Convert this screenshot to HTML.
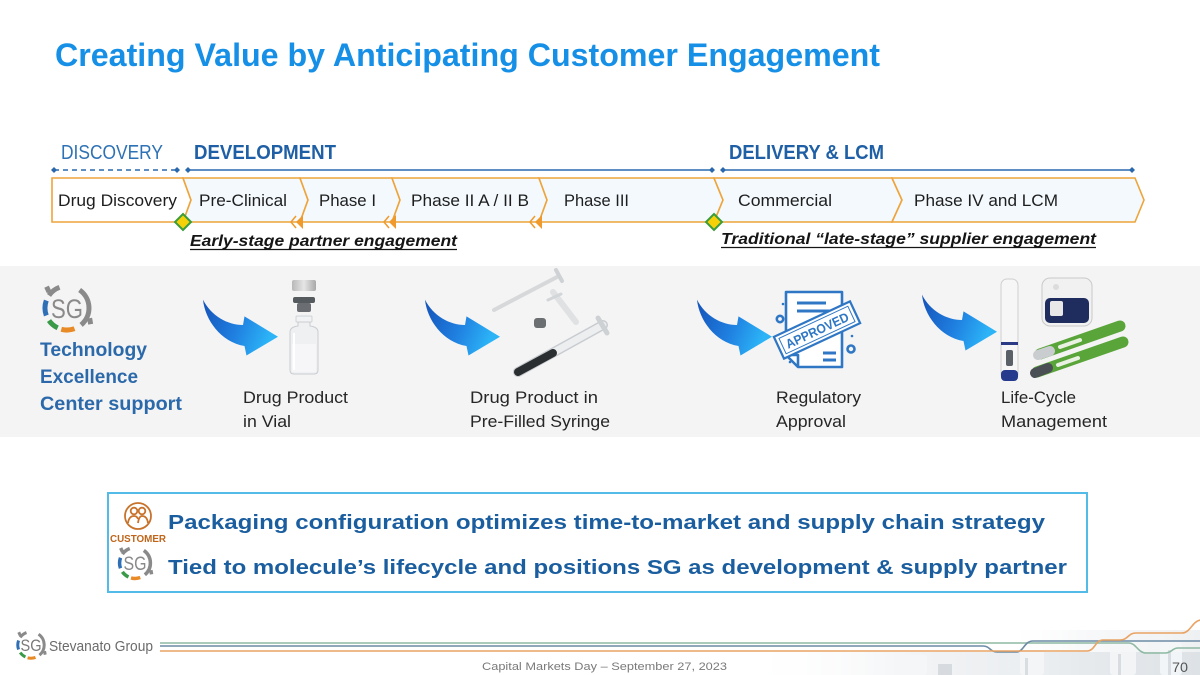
<!DOCTYPE html>
<html>
<head>
<meta charset="utf-8">
<style>
  html,body{margin:0;padding:0;background:#fff;}
  svg{display:block;}
  text{font-family:"Liberation Sans", Arial, sans-serif;}
</style>
</head>
<body>
<svg width="1200" height="675" viewBox="0 0 1200 675" xmlns="http://www.w3.org/2000/svg">
  <defs>
    <linearGradient id="arr" x1="0" y1="0" x2="1" y2="0.3">
      <stop offset="0" stop-color="#1552b8"/>
      <stop offset="0.55" stop-color="#1f7fe0"/>
      <stop offset="1" stop-color="#2cb4f7"/>
    </linearGradient>
    <linearGradient id="foot" x1="0" y1="0" x2="1" y2="0">
      <stop offset="0" stop-color="#ffffff" stop-opacity="0"/>
      <stop offset="0.4" stop-color="#e8ebee" stop-opacity="0.6"/>
      <stop offset="1" stop-color="#dde2e6" stop-opacity="1"/>
    </linearGradient>
    <linearGradient id="cap" x1="0" y1="0" x2="1" y2="0">
      <stop offset="0" stop-color="#b8b8b8"/>
      <stop offset="0.5" stop-color="#e6e6e6"/>
      <stop offset="1" stop-color="#a8a8a8"/>
    </linearGradient>
    <g id="ring">
      <path d="M-20.7,7.5 A22,22 0 0 1 -20.7,-7.5" stroke="#2f6fb5" stroke-width="5" fill="none"/>
      <path d="M-9.3,19.9 A22,22 0 0 1 -18,12.6" stroke="#3a9a48" stroke-width="5" fill="none"/>
      <path d="M7.5,20.7 A22,22 0 0 1 -5.7,21.3" stroke="#e88a25" stroke-width="5" fill="none"/>
      <path d="M12.6,-18 A22,22 0 0 1 14.1,16.9" stroke="#8a8a8a" stroke-width="5" fill="none"/>
      <path d="M-18,-12.6 A22,22 0 0 1 -7.5,-20.7" stroke="#8a8a8a" stroke-width="5" fill="none"/>
      <rect x="-12" y="-28" width="5" height="6" fill="#8a8a8a" transform="rotate(-25)"/>
      <rect x="18" y="14" width="5" height="6" fill="#8a8a8a" transform="rotate(-10)"/>
    </g>
    <path id="swoosh" d="M0,1.6 C2,22 18,44 41.5,48 L43.5,57.5 L75,38.7 L41.5,18.4 L40,27 C25,27 8,18 0,1.6 Z"/>
  </defs>

  <!-- Title -->
  <text x="55" y="66" font-size="32" font-weight="bold" fill="#168fe6" textLength="825" lengthAdjust="spacingAndGlyphs">Creating Value by Anticipating Customer Engagement</text>

  <!-- Stage headers -->
  <text x="61" y="159" font-size="20" fill="#2e72b5" textLength="102" lengthAdjust="spacingAndGlyphs">DISCOVERY</text>
  <text x="194" y="159" font-size="20" font-weight="bold" fill="#1f5fa5" textLength="142" lengthAdjust="spacingAndGlyphs">DEVELOPMENT</text>
  <text x="729" y="159" font-size="20" font-weight="bold" fill="#1f5fa5" textLength="155" lengthAdjust="spacingAndGlyphs">DELIVERY &amp; LCM</text>

  <!-- Timeline lines -->
  <g stroke="#2a68ae" stroke-width="1.5" fill="#2a68ae">
    <line x1="54" y1="170" x2="177" y2="170" stroke-dasharray="5,4"/>
    <line x1="188" y1="170" x2="712" y2="170"/>
    <line x1="723" y1="170" x2="1132" y2="170"/>
    <polygon points="54,167 57,170 54,173 51,170" stroke="none"/>
    <polygon points="177,167 180,170 177,173 174,170" stroke="none"/>
    <polygon points="188,167 191,170 188,173 185,170" stroke="none"/>
    <polygon points="712,167 715,170 712,173 709,170" stroke="none"/>
    <polygon points="723,167 726,170 723,173 720,170" stroke="none"/>
    <polygon points="1132,167 1135,170 1132,173 1129,170" stroke="none"/>
  </g>

  <!-- Phase chevrons -->
  <g stroke="#eea43a" stroke-width="1.6" stroke-linejoin="miter">
    <polygon points="52,178 183,178 191,200 183,222 52,222" fill="#ffffff"/>
    <polygon points="183,178 300,178 308,200 300,222 183,222 191,200" fill="#f3f9fd"/>
    <polygon points="300,178 392,178 400,200 392,222 300,222 308,200" fill="#f3f9fd"/>
    <polygon points="392,178 539,178 547,200 539,222 392,222 400,200" fill="#f3f9fd"/>
    <polygon points="539,178 714,178 723,200 714,222 539,222 547,200" fill="#f3f9fd"/>
    <polygon points="714,178 892,178 902,200 892,222 714,222 723,200" fill="#f3f9fd"/>
    <polygon points="892,178 1135,178 1144,200 1135,222 892,222 902,200" fill="#f3f9fd"/>
  </g>
  <g font-size="17" fill="#1e1e1e">
    <text x="58" y="206" textLength="119" lengthAdjust="spacingAndGlyphs">Drug Discovery</text>
    <text x="199" y="206" textLength="88" lengthAdjust="spacingAndGlyphs">Pre-Clinical</text>
    <text x="319" y="206" textLength="57" lengthAdjust="spacingAndGlyphs">Phase I</text>
    <text x="411" y="206" textLength="118" lengthAdjust="spacingAndGlyphs">Phase II A / II B</text>
    <text x="564" y="206" textLength="65" lengthAdjust="spacingAndGlyphs">Phase III</text>
    <text x="738" y="206" textLength="94" lengthAdjust="spacingAndGlyphs">Commercial</text>
    <text x="914" y="206" textLength="144" lengthAdjust="spacingAndGlyphs">Phase IV and LCM</text>
  </g>

  <!-- small orange double arrowheads -->
  <g fill="#ef9a2a" stroke="#ef9a2a" stroke-width="1.5">
    <polyline points="296,216 291,222 296,228" fill="none"/>
    <polygon points="303,215 296,222 303,229" stroke="none"/>
    <polyline points="389,216 384,222 389,228" fill="none"/>
    <polygon points="396,215 389,222 396,229" stroke="none"/>
    <polyline points="535,216 530,222 535,228" fill="none"/>
    <polygon points="542,215 535,222 542,229" stroke="none"/>
  </g>

  <!-- diamonds -->
  <polygon points="183,214 191,222 183,230 175,222" fill="#f6d10a" stroke="#3a9c3a" stroke-width="2"/>
  <polygon points="714,214 722,222 714,230 706,222" fill="#f6d10a" stroke="#3a9c3a" stroke-width="2"/>

  <!-- engagement labels -->
  <text x="190" y="246" font-size="16" font-weight="bold" font-style="italic" fill="#151515" textLength="267" lengthAdjust="spacingAndGlyphs">Early-stage  partner  engagement</text>
  <line x1="190" y1="249.5" x2="457" y2="249.5" stroke="#151515" stroke-width="1.2"/>
  <text x="721" y="244" font-size="16" font-weight="bold" font-style="italic" fill="#151515" textLength="375" lengthAdjust="spacingAndGlyphs">Traditional  “late-stage”  supplier  engagement</text>
  <line x1="721" y1="247.5" x2="1096" y2="247.5" stroke="#151515" stroke-width="1.2"/>

  <!-- gray band -->
  <rect x="0" y="266" width="1200" height="171" fill="#f4f4f4"/>

  <!-- SG logo main -->
  <g transform="translate(67,308)"><use href="#ring"/></g>
  <text x="67" y="318" font-size="27" fill="#8a8a8a" text-anchor="middle" textLength="32" lengthAdjust="spacingAndGlyphs">SG</text>

  <g font-size="19" font-weight="bold" fill="#2b69aa">
    <text x="40" y="356" textLength="107" lengthAdjust="spacingAndGlyphs">Technology</text>
    <text x="40" y="383" textLength="98" lengthAdjust="spacingAndGlyphs">Excellence</text>
    <text x="40" y="410" textLength="142" lengthAdjust="spacingAndGlyphs">Center support</text>
  </g>

  <!-- blue swoosh arrows -->
  <use href="#swoosh" fill="url(#arr)" transform="translate(203,298)"/>
  <use href="#swoosh" fill="url(#arr)" transform="translate(425,298)"/>
  <use href="#swoosh" fill="url(#arr)" transform="translate(697,298)"/>
  <use href="#swoosh" fill="url(#arr)" transform="translate(922,293)"/>

  <!-- vial -->
  <g>
    <rect x="292" y="280" width="24" height="11" rx="2" fill="url(#cap)"/>
    <rect x="293" y="297" width="22" height="6" rx="2" fill="#555a5e"/>
    <rect x="297" y="303" width="14" height="9" rx="2" fill="#6a6e72"/>
    <rect x="296" y="316" width="16" height="6" rx="1" fill="#f2f3f4" stroke="#cfd3d6" stroke-width="1"/>
    <path d="M298,322 L298,326 Q290,327 290,332 L290,370 Q290,374 294,374 L314,374 Q318,374 318,370 L318,332 Q318,327 310,326 L310,322 Z" fill="#eef0f2" stroke="#c9cdd1" stroke-width="1"/>
    <rect x="292" y="344" width="24" height="28" fill="#f7f8f9" opacity="0.8"/>
    <line x1="294" y1="333" x2="294" y2="370" stroke="#ffffff" stroke-width="2"/>
  </g>

  <!-- syringe parts -->
  <g stroke-linecap="round">
    <line x1="494" y1="310" x2="559" y2="276" stroke="#d6d8da" stroke-width="4"/>
    <line x1="556" y1="270" x2="562" y2="281" stroke="#cfd2d4" stroke-width="4"/>
    <line x1="553" y1="292" x2="576" y2="322" stroke="#dfe1e3" stroke-width="6"/>
    <line x1="548" y1="300" x2="561" y2="294" stroke="#d3d6d8" stroke-width="3"/>
    <rect x="534" y="318" width="12" height="10" rx="3" fill="#6c6f72"/>
    <line x1="518" y1="372" x2="603" y2="325" stroke="#c8ccd0" stroke-width="10"/>
    <line x1="518" y1="372" x2="603" y2="325" stroke="#eceef0" stroke-width="7"/>
    <line x1="518" y1="372" x2="553" y2="353" stroke="#2b2e30" stroke-width="8"/>
    <line x1="598" y1="318" x2="607" y2="333" stroke="#cdd1d4" stroke-width="5"/>
  </g>

  <!-- approved doc -->
  <g stroke="#2f77c4" stroke-width="2.6" fill="none" stroke-linejoin="round">
    <path d="M786,292 L842,292 L842,367 L798,367 L786,355 Z" fill="#ffffff"/>
    <path d="M786,355 L798,355 L798,367"/>
    <line x1="797" y1="303" x2="826" y2="303" stroke-width="3"/>
    <line x1="797" y1="311" x2="832" y2="311" stroke-width="3"/>
    <line x1="823" y1="353" x2="836" y2="353" stroke-width="3"/>
    <line x1="823" y1="360" x2="836" y2="360" stroke-width="3"/>
    <circle cx="780" cy="319" r="3.2"/>
    <circle cx="851" cy="349" r="3.5"/>
  </g>
  <g fill="#2f77c4">
    <circle cx="783" cy="304" r="1.3"/>
    <circle cx="851" cy="306" r="1.3"/>
    <circle cx="852" cy="336" r="1.3"/>
    <circle cx="781" cy="345" r="1.3"/>
    <circle cx="790" cy="362" r="1.3"/>
  </g>
  <g transform="translate(817,330) rotate(-25)">
    <rect x="-42" y="-12" width="84" height="24" fill="#ffffff" stroke="#2f77c4" stroke-width="2.2"/>
    <rect x="-38" y="-8.5" width="76" height="17" fill="none" stroke="#2f77c4" stroke-width="1"/>
    <text x="0" y="5" font-size="13" font-weight="bold" fill="#2f77c4" text-anchor="middle" textLength="68" lengthAdjust="spacingAndGlyphs">APPROVED</text>
  </g>

  <!-- pen devices -->
  <g>
    <rect x="1001" y="279" width="17" height="101" rx="6" fill="#f6f6f6" stroke="#cfcfcf" stroke-width="1"/>
    <rect x="1001" y="342" width="17" height="3" fill="#2a3a84"/>
    <rect x="1006" y="350" width="7" height="16" rx="2" fill="#5a6068"/>
    <rect x="1001" y="370" width="17" height="11" rx="4" fill="#253a8c"/>
    <rect x="1042" y="278" width="50" height="48" rx="8" fill="#f1f1f1" stroke="#c9c9c9" stroke-width="1"/>
    <rect x="1045" y="298" width="44" height="25" rx="5" fill="#1f2d5e"/>
    <rect x="1050" y="301" width="13" height="15" rx="2" fill="#e8e8e8"/>
    <circle cx="1056" cy="287" r="3" fill="#dcdcdc"/>
    <g stroke-linecap="round">
      <line x1="1040" y1="354" x2="1120" y2="326" stroke="#5aa53a" stroke-width="11"/>
      <line x1="1038" y1="355" x2="1050" y2="351" stroke="#c9cdd0" stroke-width="10"/>
      <line x1="1060" y1="347" x2="1080" y2="340" stroke="#e8f1e2" stroke-width="4"/>
      <line x1="1037" y1="372" x2="1123" y2="342" stroke="#5aa53a" stroke-width="11"/>
      <line x1="1035" y1="373" x2="1048" y2="368" stroke="#4a4f55" stroke-width="10"/>
      <line x1="1058" y1="365" x2="1078" y2="358" stroke="#e8f1e2" stroke-width="4"/>
    </g>
  </g>

  <!-- image labels -->
  <g font-size="17" fill="#262626">
    <text x="243" y="403" textLength="105" lengthAdjust="spacingAndGlyphs">Drug Product</text>
    <text x="243" y="427" textLength="48" lengthAdjust="spacingAndGlyphs">in Vial</text>
    <text x="470" y="403" textLength="128" lengthAdjust="spacingAndGlyphs">Drug Product in</text>
    <text x="470" y="427" textLength="140" lengthAdjust="spacingAndGlyphs">Pre-Filled Syringe</text>
    <text x="776" y="403" textLength="85" lengthAdjust="spacingAndGlyphs">Regulatory</text>
    <text x="776" y="427" textLength="70" lengthAdjust="spacingAndGlyphs">Approval</text>
    <text x="1001" y="403" textLength="75" lengthAdjust="spacingAndGlyphs">Life-Cycle</text>
    <text x="1001" y="427" textLength="106" lengthAdjust="spacingAndGlyphs">Management</text>
  </g>

  <!-- message box -->
  <rect x="108" y="493" width="979" height="99" fill="#ffffff" stroke="#52bbe7" stroke-width="2"/>
  <g stroke="#c8732c" stroke-width="1.8" fill="none">
    <circle cx="138" cy="516" r="13"/>
    <circle cx="134" cy="511" r="3.3"/>
    <circle cx="142" cy="511" r="3.3"/>
    <path d="M128,523 Q129,516 134,516 Q137,516 138,519"/>
    <path d="M138,523 Q139,516 142,516 Q147,516 148,523"/>
  </g>
  <text x="110" y="542" font-size="10" font-weight="bold" fill="#c0651a" textLength="56" lengthAdjust="spacingAndGlyphs">CUSTOMER</text>
  <g transform="translate(135,563) scale(0.7)"><use href="#ring"/></g>
  <text x="135" y="570" font-size="19" fill="#8a8a8a" text-anchor="middle" textLength="23" lengthAdjust="spacingAndGlyphs">SG</text>

  <g font-size="20" font-weight="bold" fill="#1b5e9f">
    <text x="168" y="529" textLength="877" lengthAdjust="spacingAndGlyphs">Packaging configuration optimizes time-to-market and supply chain strategy</text>
    <text x="168" y="574" textLength="899" lengthAdjust="spacingAndGlyphs">Tied to molecule’s lifecycle and positions SG as development &amp; supply partner</text>
  </g>

  <!-- footer photo -->
  <rect x="740" y="652" width="460" height="23" fill="url(#foot)"/>
  <rect x="1000" y="630" width="200" height="45" fill="url(#foot)" opacity="0.5"/>
  <g fill="#f4f6f8" opacity="0.9">
    <rect x="905" y="655" width="22" height="20" rx="3"/>
    <rect x="1020" y="650" width="24" height="25" rx="3"/>
    <rect x="1110" y="646" width="26" height="29" rx="3"/>
    <rect x="1160" y="642" width="22" height="33" rx="3"/>
  </g>
  <g fill="#aab2b9" opacity="0.35">
    <rect x="938" y="664" width="14" height="11"/>
    <rect x="1025" y="658" width="3" height="17"/>
    <rect x="1118" y="654" width="3" height="21"/>
    <rect x="1168" y="650" width="3" height="25"/>
  </g>

  <!-- footer lines -->
  <g fill="none" stroke-width="1.6">
    <path d="M160,643 L1129,643 C1136,643 1138,653 1146,653 L1165,653 C1172,653 1172,648 1178,648 L1200,648" stroke="#8db9a3"/>
    <path d="M160,646 L983,646 C990,646 990,652 997,652 L1016,652 C1024,652 1024,641 1033,641 L1200,641" stroke="#6d8ba6"/>
    <path d="M160,651 L1087,651 C1095,651 1095,640 1103,640 L1120,640 C1128,640 1128,633 1136,633 L1182,633 C1190,633 1192,622 1200,620" stroke="#e9a362"/>
  </g>

  <!-- footer logo -->
  <g transform="translate(31,645) scale(0.6)"><use href="#ring"/></g>
  <text x="31" y="651" font-size="17" fill="#7a7a7a" text-anchor="middle" textLength="21" lengthAdjust="spacingAndGlyphs">SG</text>
  <text x="49" y="651" font-size="15" fill="#6b6b6b" textLength="104" lengthAdjust="spacingAndGlyphs">Stevanato Group</text>

  <text x="482" y="670" font-size="11" fill="#7a7a7a" textLength="245" lengthAdjust="spacingAndGlyphs">Capital Markets Day – September  27, 2023</text>
  <text x="1172" y="672" font-size="14" fill="#555555" textLength="16" lengthAdjust="spacingAndGlyphs">70</text>
</svg>
</body>
</html>
